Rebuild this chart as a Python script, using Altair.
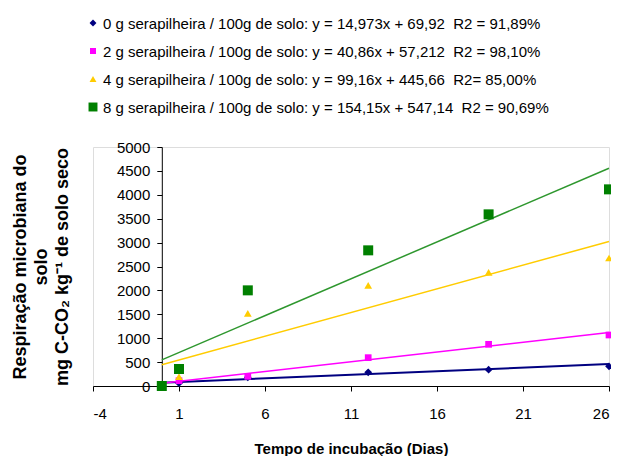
import altair as alt
import pandas as pd

days = [0, 1, 5, 12, 19, 26]
s0 = [0, 60, 181, 286, 342, 411]
s2 = [0, 111, 202, 593, 872, 1067]
s4 = [0, 195, 1520, 2106, 2378, 2678]
s8 = [0, 356, 2001, 2838, 3591, 4114]

NB = "\u00a0"
labels = [
    "0 g serapilheira / 100g de solo: y = 14,973x + 69,92" + NB + " R2 = 91,89%",
    "2 g serapilheira / 100g de solo: y = 40,86x + 57,212" + NB + " R2 = 98,10%",
    "4 g serapilheira / 100g de solo: y = 99,16x + 445,66" + NB + " R2= 85,00%",
    "8 g serapilheira / 100g de solo: y = 154,15x + 547,14" + NB + " R2 = 90,69%",
]
slopes = [14.973, 40.86, 99.16, 154.15]
intercepts = [69.92, 57.212, 445.66, 547.14]
trend_x = [0, 26]

point_colors = ["#000080", "#FF00FF", "#FFCC00", "#008000"]
line_colors = ["#000080", "#FF00FF", "#FFCC00", "#2E972E"]
shapes = ["diamond", "square", "triangle-up", "square"]
sizes = [60, 45, 60, 100]
line_widths = [2, 1.5, 1.5, 1.5]

FONT = "Liberation Sans"

xscale = alt.Scale(domain=[-4, 26], nice=False, zero=False)
yscale = alt.Scale(domain=[0, 5000], nice=False)

xaxis = alt.Axis(values=[-4, 1, 6, 11, 16, 21, 26], grid=False, tickSize=5,
                 labelPadding=15, labelFontSize=15, labelFont=FONT, labelColor="black",
                 labelExpr="'' + datum.value",
                 domainColor="black", tickColor="black", title="Tempo de incubação (Dias)",
                 titleFont=FONT, titleFontSize=15, titleFontWeight="bold", titleColor="black",
                 titlePadding=20)
yaxis = alt.Axis(values=list(range(0, 5001, 500)), grid=False, tickSize=5, labelPadding=7,
                 labelFontSize=15, labelFont=FONT, labelColor="black", domainColor="black",
                 tickColor="black", offset=-68.8, format="d",
                 title=["Respiração microbiana do", "solo", "mg C-CO₂ kg⁻¹ de solo seco"],
                 titleFont=FONT, titleFontSize=18, titleFontWeight="bold", titleColor="black",
                 titlePadding=45, titleLineHeight=21)

layers = []
# trend lines
for i, lab in enumerate(labels):
    tdf = pd.DataFrame({"day": trend_x,
                        "value": [slopes[i] * xv + intercepts[i] for xv in trend_x]})
    layers.append(
        alt.Chart(tdf).mark_line(strokeWidth=line_widths[i], color=line_colors[i], clip=False).encode(
            x=alt.X("day:Q", scale=xscale, axis=xaxis),
            y=alt.Y("value:Q", scale=yscale, axis=yaxis),
        )
    )
# data points
for i, (lab, vals) in enumerate(zip(labels, [s0, s2, s4, s8])):
    pdf = pd.DataFrame({"day": days, "value": vals})
    layers.append(
        alt.Chart(pdf).mark_point(filled=True, opacity=1, shape=shapes[i], size=sizes[i],
                                  color=point_colors[i], clip=False).encode(
            x=alt.X("day:Q", scale=xscale, axis=xaxis),
            y=alt.Y("value:Q", scale=yscale, axis=yaxis),
        )
    )
# legend
legend_row0 = -124
legend_step = 28
for i, lab in enumerate(labels):
    ldf = pd.DataFrame({"label": [lab]})
    ypix = legend_row0 + legend_step * i
    layers.append(
        alt.Chart(ldf).mark_point(filled=True, opacity=1, shape=shapes[i],
                                  size=sizes[i] * 0.8, color=point_colors[i]).encode(
            x=alt.value(0), y=alt.value(ypix)
        )
    )
    layers.append(
        alt.Chart(ldf).mark_text(align="left", baseline="middle", font=FONT, fontSize=15,
                                 color="black").encode(
            x=alt.value(10), y=alt.value(ypix + 1), text="label:N"
        )
    )

chart = alt.layer(*layers).properties(
    width=516, height=239,
    padding={"left": 85, "top": 139, "right": 2, "bottom": 70},
    autosize=alt.AutoSizeParams(type="none"),
).configure_view(stroke=None).configure(background="white")

chart.save("out.html", embed_options={"renderer": "svg", "actions": False})
